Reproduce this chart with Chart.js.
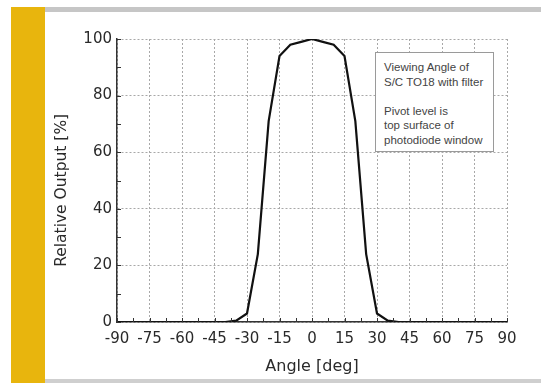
<!DOCTYPE html>
<html>
<head>
<meta charset="utf-8">
<script src="https://cdn.jsdelivr.net/npm/chart.js@4"></script>
<style>
  html, body { margin: 0; padding: 0; background: #ffffff; }
  #wrap { position: relative; width: 541px; height: 383px; overflow: hidden; background: #fff; }
  #yellow { position: absolute; left: 11px; top: 7px; width: 34px; height: 376px; background: #E8B50D; }
  #topband { position: absolute; left: 45px; top: 7px; width: 496px; height: 5px; background: #C6C6C6; }
  #botband { position: absolute; left: 45px; top: 379px; width: 496px; height: 4px; background: #CFCFCF; }
  #cv { position: absolute; left: 0; top: 0; }
  #note { position: absolute; left: 375px; top: 52px; width: 117px; height: 98px; background: #fff;
          border: 1px solid #9a9a9a; box-sizing: content-box;
          font-family: "Liberation Sans", Arial, sans-serif; font-size: 11.5px; line-height: 14.5px; color: #444;
          padding: 0; }
  #note div { position: absolute; left: 8px; white-space: nowrap; }
</style>
</head>
<body>
<div id="wrap">
  <div id="yellow"></div>
  <div id="topband"></div>
  <div id="botband"></div>
  <canvas id="cv" width="541" height="383"></canvas>
  <div id="note"></div>
</div>
<script>
// ---- data ----
const angles = [-90, -85, -80, -75, -70, -65, -60, -55, -50, -45, -40, -35, -30, -25, -20, -15, -10, -5, 0,
                5, 10, 15, 20, 25, 30, 35, 40, 45, 50, 55, 60, 65, 70, 75, 80, 85, 90];
const relativeOutput = [0, 0, 0, 0, 0, 0, 0, 0, 0, 0, 0, 0.5, 3, 24, 71, 94, 98, 99, 100,
                        99, 98, 94, 71, 24, 3, 0.5, 0, 0, 0, 0, 0, 0, 0, 0, 0, 0, 0];
const xTicks = [-90, -75, -60, -45, -30, -15, 0, 15, 30, 45, 60, 75, 90];
const yTicks = [0, 20, 40, 60, 80, 100];
const xMinorTicks = [-82.5, -67.5, -52.5, -37.5, -22.5, -7.5, 7.5, 22.5, 37.5, 52.5, 67.5, 82.5];
const yMinorTicks = [10, 30, 50, 70, 90];
const noteLines = ["Viewing Angle of", "S/C TO18 with filter", "", "Pivot level is", "top surface of", "photodiode window"];
const xTitle = "Angle [deg]";
const yTitle = "Relative Output [%]";

// note box
const note = document.getElementById('note');
noteLines.forEach((t, i) => {
  const d = document.createElement('div');
  d.textContent = t;
  d.style.top = (7 + i * 14.5) + 'px';
  note.appendChild(d);
});

const points = angles.map((a, i) => ({ x: a, y: relativeOutput[i] }));

const innerTicks = {
  id: 'innerTicks',
  afterDatasetsDraw(chart) {
    const ctx = chart.ctx, xs = chart.scales.x, ys = chart.scales.y, a = chart.chartArea;
    ctx.save();
    ctx.strokeStyle = '#333';
    ctx.lineWidth = 1;
    ctx.beginPath();
    xTicks.concat(xMinorTicks).forEach(v => {
      const px = Math.round(xs.getPixelForValue(v)) + 0.5;
      ctx.moveTo(px, a.bottom); ctx.lineTo(px, a.bottom - 4);
    });
    yTicks.concat(yMinorTicks).forEach(v => {
      const py = Math.round(ys.getPixelForValue(v)) + 0.5;
      ctx.moveTo(a.left, py); ctx.lineTo(a.left + 4, py);
    });
    ctx.stroke();
    ctx.restore();
  }
};

new Chart(document.getElementById('cv'), {
  type: 'line',
  data: {
    datasets: [{
      data: points,
      borderColor: '#111',
      borderWidth: 2.2,
      pointRadius: 0,
      tension: 0,
      fill: false
    }]
  },
  options: {
    responsive: false,
    animation: false,
    events: [],
    layout: { padding: { left: 0, right: 34, top: 39, bottom: 2 } },
    plugins: { legend: { display: false }, tooltip: { enabled: false } },
    scales: {
      x: {
        type: 'linear', min: -90, max: 90,
        afterBuildTicks(s) { s.ticks = xTicks.map(v => ({ value: v })); },
        afterFit(s) { s.height = 59; },
        grid: { color: '#a8a8a8', lineWidth: 1, drawTicks: false },
        border: { display: true, color: '#333', width: 1.5, dash: [2, 2] },
        ticks: { color: '#2a2a2a', padding: 8, maxRotation: 0, autoSkip: false,
                 font: { family: 'DejaVu Sans', size: 15 } },
        title: { display: true, text: xTitle, color: '#2a2a2a', padding: { top: 0, bottom: 5 },
                 font: { family: 'DejaVu Sans', size: 16 } }
      },
      y: {
        type: 'linear', min: 0, max: 100,
        afterBuildTicks(s) { s.ticks = yTicks.map(v => ({ value: v })); },
        afterFit(s) { s.width = 117; },
        grid: { color: '#a8a8a8', lineWidth: 1, drawTicks: false },
        border: { display: true, color: '#333', width: 1.5, dash: [2, 2] },
        ticks: { color: '#2a2a2a', padding: 5, font: { family: 'DejaVu Sans', size: 15 } },
        title: { display: true, text: yTitle + '\u00A0\u00A0\u00A0\u00A0', color: '#2a2a2a', padding: { top: 53, bottom: 0 },
                 font: { family: 'DejaVu Sans', size: 15.5 } }
      }
    }
  },
  plugins: [innerTicks]
});
</script>
</body>
</html>
